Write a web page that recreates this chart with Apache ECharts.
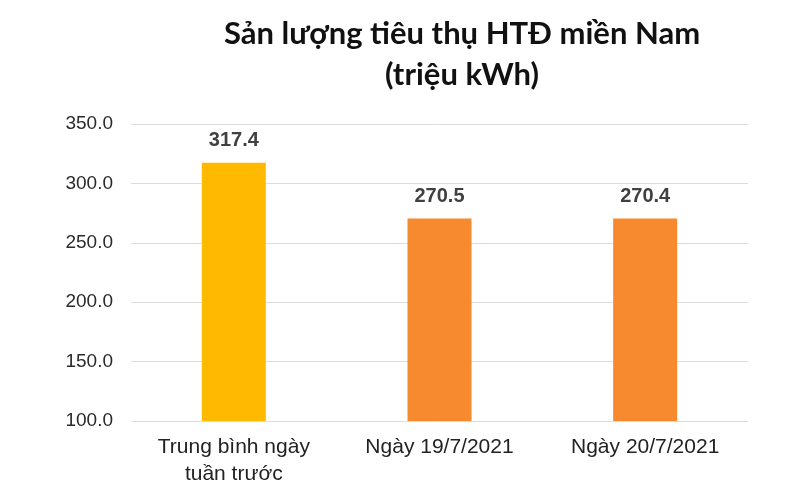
<!DOCTYPE html>
<html>
<head>
<meta charset="utf-8">
<script src="https://cdn.jsdelivr.net/npm/echarts@6/dist/echarts.min.js"></script>
<style>
  html, body { margin: 0; padding: 0; background: #fff; }
  #chart { width: 800px; height: 494px; }
</style>
</head>
<body>
<div id="chart"></div>
<script>
// data
const categories = ['Trung bình ngày\ntuần trước', 'Ngày 19/7/2021', 'Ngày 20/7/2021'];
const values = [317.4, 270.5, 270.4];
const barColors = ['#FFBA00', '#F7892F', '#F7892F'];

const myChart = echarts.init(document.getElementById('chart'));

const option = {
    backgroundColor: '#fff',
    animation: false,
    title: {
        text: 'Sản lượng tiêu thụ HTĐ miền Nam\n(triệu kWh)',
        left: 457,
        textAlign: 'center',
        top: 8,
        textStyle: {
            fontFamily: 'Lato',
            fontWeight: 'bold',
            fontSize: 31,
            lineHeight: 41,
            color: '#111'
        }
    },
    grid: {
        left: 131,
        right: 52,
        top: 124,
        bottom: 73
    },
    xAxis: {
        type: 'category',
        data: categories,
        axisLine: {show: false},
        axisTick: {show: false},
        axisLabel: {
            fontFamily: 'Liberation Sans',
            fontSize: 21,
            lineHeight: 27,
            color: '#222',
            margin: 13
        }
    },
    yAxis: {
        type: 'value',
        min: 100,
        max: 350,
        interval: 50,
        axisLabel: {
            fontFamily: 'Liberation Sans',
            fontSize: 19,
            color: '#2a2a2a',
            margin: 18,
            formatter: v => v.toFixed(1)
        },
        splitLine: {lineStyle: {color: '#dcdcdc', width: 1}}
    },
    series: [{
        type: 'bar',
        barWidth: 64,
        data: values.map((v, i) => ({value: v, itemStyle: {color: barColors[i]}})),
        label: {
            show: true,
            position: 'top',
            distance: 12,
            fontFamily: 'Liberation Sans',
            fontWeight: 'bold',
            fontSize: 20,
            color: '#404040',
            formatter: p => p.value.toFixed(1)
        }
    }]
};

myChart.setOption(option);
</script>
</body>
</html>
